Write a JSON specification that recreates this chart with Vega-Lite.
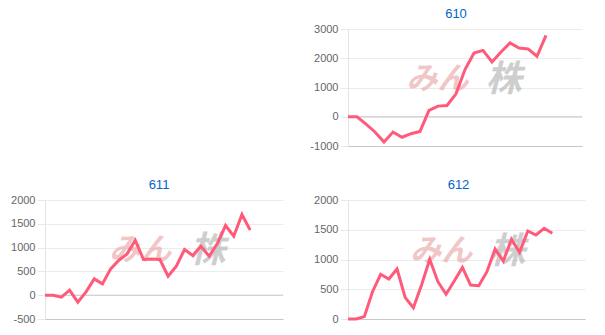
{
  "$schema": "https://vega.github.io/schema/vega-lite/v6.json",
  "padding": {"left": 10, "top": 7, "right": 5, "bottom": 5},
  "background": "white",
  "datasets": {
    "p610": [
      {"i": 0, "v": 0}, {"i": 1, "v": 0}, {"i": 2, "v": -250}, {"i": 3, "v": -520}, {"i": 4, "v": -860},
      {"i": 5, "v": -523}, {"i": 6, "v": -700}, {"i": 7, "v": -580}, {"i": 8, "v": -500}, {"i": 9, "v": 216},
      {"i": 10, "v": 364}, {"i": 11, "v": 386}, {"i": 12, "v": 784}, {"i": 13, "v": 1614}, {"i": 14, "v": 2180},
      {"i": 15, "v": 2270}, {"i": 16, "v": 1875}, {"i": 17, "v": 2216}, {"i": 18, "v": 2523}, {"i": 19, "v": 2352},
      {"i": 20, "v": 2318}, {"i": 21, "v": 2068}, {"i": 22, "v": 2784}
    ],
    "p611": [
      {"i": 0, "v": 0}, {"i": 1, "v": 0}, {"i": 2, "v": -42}, {"i": 3, "v": 105}, {"i": 4, "v": -147},
      {"i": 5, "v": 70}, {"i": 6, "v": 343}, {"i": 7, "v": 238}, {"i": 8, "v": 553}, {"i": 9, "v": 735},
      {"i": 10, "v": 868}, {"i": 11, "v": 1155}, {"i": 12, "v": 750}, {"i": 13, "v": 763}, {"i": 14, "v": 750},
      {"i": 15, "v": 400}, {"i": 16, "v": 609}, {"i": 17, "v": 959}, {"i": 18, "v": 833}, {"i": 19, "v": 1029},
      {"i": 20, "v": 819}, {"i": 21, "v": 1085}, {"i": 22, "v": 1464}, {"i": 23, "v": 1240}, {"i": 24, "v": 1695},
      {"i": 25, "v": 1366}
    ],
    "p612": [
      {"i": 0, "v": 0}, {"i": 1, "v": 0}, {"i": 2, "v": 40}, {"i": 3, "v": 459}, {"i": 4, "v": 751},
      {"i": 5, "v": 672}, {"i": 6, "v": 840}, {"i": 7, "v": 359}, {"i": 8, "v": 190}, {"i": 9, "v": 571},
      {"i": 10, "v": 1003}, {"i": 11, "v": 627}, {"i": 12, "v": 415}, {"i": 13, "v": 639}, {"i": 14, "v": 868},
      {"i": 15, "v": 571}, {"i": 16, "v": 560}, {"i": 17, "v": 796}, {"i": 18, "v": 1176}, {"i": 19, "v": 975},
      {"i": 20, "v": 1339}, {"i": 21, "v": 1120}, {"i": 22, "v": 1479}, {"i": 23, "v": 1412}, {"i": 24, "v": 1524},
      {"i": 25, "v": 1440}
    ]
  },
  "columns": 2,
  "align": "each",
  "spacing": {"column": 25, "row": 27},
  "concat": [
    {
      "width": 10,
      "height": 100,
      "data": {"values": []},
      "mark": {"type": "point", "opacity": 0},
      "encoding": {}
    },
    {
      "title": {"text": "610", "dx": -9},
      "width": 234,
      "height": 117,
      "layer": [
        {
          "data": {"values": [{}]},
          "mark": {"type": "text", "font": "Noto Sans CJK JP", "fontSize": 31, "fontWeight": "bold", "fontStyle": "italic", "color": "#eaa8a8", "opacity": 0.65},
          "encoding": {"x": {"datum": 9.94, "type": "quantitative"}, "y": {"datum": 1273, "type": "quantitative", "axis": {"values": [-1000, 0, 1000, 2000, 3000]}}, "text": {"value": "みん"}}
        },
        {
          "data": {"values": [{}]},
          "mark": {"type": "text", "font": "Noto Sans CJK JP", "fontSize": 36, "fontWeight": "bold", "fontStyle": "italic", "color": "#b5b5b5", "opacity": 0.65},
          "encoding": {"x": {"datum": 17.3, "type": "quantitative"}, "y": {"datum": 1273, "type": "quantitative", "axis": {"values": [-1000, 0, 1000, 2000, 3000]}}, "text": {"value": "株"}}
        },
        {
          "data": {"values": [{}]},
          "mark": {"type": "rule", "color": "#c8c8c8", "strokeWidth": 1},
          "encoding": {"y": {"datum": 0, "type": "quantitative", "axis": {"values": [-1000, 0, 1000, 2000, 3000]}}}
        },
        {
          "data": {"name": "p610"},
          "mark": {"type": "line", "color": "#ff5a7a", "strokeWidth": 3},
          "encoding": {
            "x": {"field": "i", "type": "quantitative", "scale": {"domain": [0, 26], "nice": false, "zero": false}},
            "y": {"field": "v", "type": "quantitative", "scale": {"domain": [-1000, 3000], "nice": false}, "axis": {"values": [-1000, 0, 1000, 2000, 3000]}}
          }
        }
      ]
    },
    {
      "title": {"text": "611", "dx": -5},
      "width": 238,
      "height": 119,
      "layer": [
        {
          "data": {"values": [{}]},
          "mark": {"type": "text", "font": "Noto Sans CJK JP", "fontSize": 31, "fontWeight": "bold", "fontStyle": "italic", "color": "#eaa8a8", "opacity": 0.65},
          "encoding": {"x": {"datum": 11.6, "type": "quantitative"}, "y": {"datum": 928, "type": "quantitative", "axis": {"values": [-500, 0, 500, 1000, 1500, 2000]}}, "text": {"value": "みん"}}
        },
        {
          "data": {"values": [{}]},
          "mark": {"type": "text", "font": "Noto Sans CJK JP", "fontSize": 36, "fontWeight": "bold", "fontStyle": "italic", "color": "#b5b5b5", "opacity": 0.65},
          "encoding": {"x": {"datum": 19.8, "type": "quantitative"}, "y": {"datum": 928, "type": "quantitative", "axis": {"values": [-500, 0, 500, 1000, 1500, 2000]}}, "text": {"value": "株"}}
        },
        {
          "data": {"values": [{}]},
          "mark": {"type": "rule", "color": "#c8c8c8", "strokeWidth": 1},
          "encoding": {"y": {"datum": 0, "type": "quantitative", "axis": {"values": [-500, 0, 500, 1000, 1500, 2000]}}}
        },
        {
          "data": {"name": "p611"},
          "mark": {"type": "line", "color": "#ff5a7a", "strokeWidth": 3},
          "encoding": {
            "x": {"field": "i", "type": "quantitative", "scale": {"domain": [0, 29], "nice": false, "zero": false}},
            "y": {"field": "v", "type": "quantitative", "scale": {"domain": [-500, 2000], "nice": false}, "axis": {"values": [-500, 0, 500, 1000, 1500, 2000]}}
          }
        }
      ]
    },
    {
      "title": {"text": "612", "dx": -8},
      "width": 237,
      "height": 119,
      "layer": [
        {
          "data": {"values": [{}]},
          "mark": {"type": "text", "font": "Noto Sans CJK JP", "fontSize": 31, "fontWeight": "bold", "fontStyle": "italic", "color": "#eaa8a8", "opacity": 0.65},
          "encoding": {"x": {"datum": 11.4, "type": "quantitative"}, "y": {"datum": 1134, "type": "quantitative", "axis": {"values": [0, 500, 1000, 1500, 2000]}}, "text": {"value": "みん"}}
        },
        {
          "data": {"values": [{}]},
          "mark": {"type": "text", "font": "Noto Sans CJK JP", "fontSize": 36, "fontWeight": "bold", "fontStyle": "italic", "color": "#b5b5b5", "opacity": 0.65},
          "encoding": {"x": {"datum": 19.5, "type": "quantitative"}, "y": {"datum": 1134, "type": "quantitative", "axis": {"values": [0, 500, 1000, 1500, 2000]}}, "text": {"value": "株"}}
        },
        {
          "data": {"name": "p612"},
          "mark": {"type": "line", "color": "#ff5a7a", "strokeWidth": 3},
          "encoding": {
            "x": {"field": "i", "type": "quantitative", "scale": {"domain": [0, 29], "nice": false, "zero": false}},
            "y": {"field": "v", "type": "quantitative", "scale": {"domain": [0, 2000], "nice": false}, "axis": {"values": [0, 500, 1000, 1500, 2000]}}
          }
        }
      ]
    }
  ],
  "config": {
    "view": {"stroke": null},
    "font": "Liberation Sans",
    "title": {"font": "Liberation Sans", "fontSize": 13, "fontWeight": "normal", "color": "#0066cc", "anchor": "middle", "offset": 2.3},
    "axisX": {"labels": false, "ticks": false, "grid": false, "title": null, "domainColor": "#c8c8c8", "domainWidth": 1},
    "axisY": {
      "title": null,
      "grid": true,
      "gridColor": "#ebebeb",
      "gridWidth": 1,
      "labelOverlap": false,
      "labelFont": "Liberation Sans",
      "labelFontSize": 11,
      "labelColor": "#666666",
      "labelPadding": 2,
      "ticks": true,
      "tickSize": 8,
      "tickColor": "#e8e8e8",
      "domain": true,
      "domainColor": "#e3e3e3",
      "labelExpr": "'' + datum.value"
    }
  }
}
